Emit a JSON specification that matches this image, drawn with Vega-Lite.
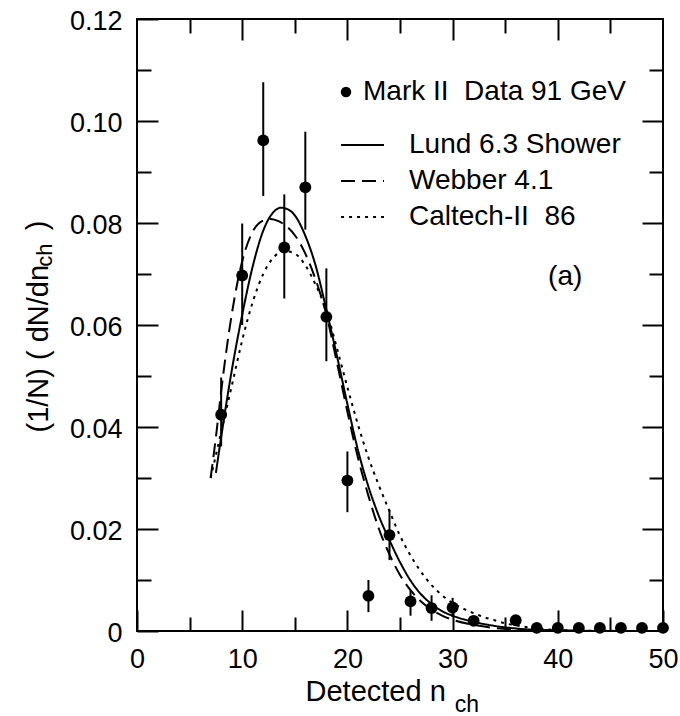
{
  "$schema": "https://vega.github.io/schema/vega-lite/v6.json",
  "width": 526,
  "height": 612,
  "autosize": {"type": "none"},
  "padding": {"left": 137, "top": 19, "right": 17, "bottom": 85},
  "background": "white",
  "datasets": {
    "data": [
      {"n": 8, "v": 0.0424, "lo": 0.0362, "hi": 0.0497},
      {"n": 10, "v": 0.0697, "lo": 0.0600, "hi": 0.0799},
      {"n": 12, "v": 0.0962, "lo": 0.0853, "hi": 0.1076},
      {"n": 14, "v": 0.0752, "lo": 0.0652, "hi": 0.0856},
      {"n": 16, "v": 0.0870, "lo": 0.0787, "hi": 0.0979},
      {"n": 18, "v": 0.0616, "lo": 0.0529, "hi": 0.0711},
      {"n": 20, "v": 0.0295, "lo": 0.0233, "hi": 0.0352},
      {"n": 22, "v": 0.0069, "lo": 0.0037, "hi": 0.0100},
      {"n": 24, "v": 0.0188, "lo": 0.0139, "hi": 0.0238},
      {"n": 26, "v": 0.0058, "lo": 0.0030, "hi": 0.0080},
      {"n": 28, "v": 0.0045, "lo": 0.0020, "hi": 0.0070},
      {"n": 30, "v": 0.0046, "lo": 0.0027, "hi": 0.0065},
      {"n": 32, "v": 0.0020, "lo": 0.0010, "hi": 0.0030},
      {"n": 36, "v": 0.0021, "lo": 0.0012, "hi": 0.0030},
      {"n": 38, "v": 0.0006, "lo": 0.0006, "hi": 0.0006},
      {"n": 40, "v": 0.0006, "lo": 0.0006, "hi": 0.0006},
      {"n": 42, "v": 0.0006, "lo": 0.0006, "hi": 0.0006},
      {"n": 44, "v": 0.0006, "lo": 0.0006, "hi": 0.0006},
      {"n": 46, "v": 0.0006, "lo": 0.0006, "hi": 0.0006},
      {"n": 48, "v": 0.0006, "lo": 0.0006, "hi": 0.0006},
      {"n": 50, "v": 0.0006, "lo": 0.0006, "hi": 0.0006}
    ],
    "curves": [
      {"model": "Lund 6.3 Shower", "n": 7.5, "v": 0.031},
      {"model": "Lund 6.3 Shower", "n": 8, "v": 0.038},
      {"model": "Lund 6.3 Shower", "n": 9, "v": 0.051},
      {"model": "Lund 6.3 Shower", "n": 10, "v": 0.062},
      {"model": "Lund 6.3 Shower", "n": 11, "v": 0.0715},
      {"model": "Lund 6.3 Shower", "n": 12, "v": 0.0785},
      {"model": "Lund 6.3 Shower", "n": 13, "v": 0.0822},
      {"model": "Lund 6.3 Shower", "n": 13.7, "v": 0.0830},
      {"model": "Lund 6.3 Shower", "n": 14.5, "v": 0.0825},
      {"model": "Lund 6.3 Shower", "n": 15, "v": 0.0815},
      {"model": "Lund 6.3 Shower", "n": 16, "v": 0.0775},
      {"model": "Lund 6.3 Shower", "n": 17, "v": 0.0715},
      {"model": "Lund 6.3 Shower", "n": 18, "v": 0.0630},
      {"model": "Lund 6.3 Shower", "n": 19, "v": 0.0540},
      {"model": "Lund 6.3 Shower", "n": 20, "v": 0.0445},
      {"model": "Lund 6.3 Shower", "n": 21, "v": 0.0355},
      {"model": "Lund 6.3 Shower", "n": 22, "v": 0.0283},
      {"model": "Lund 6.3 Shower", "n": 23, "v": 0.0225},
      {"model": "Lund 6.3 Shower", "n": 24, "v": 0.0178},
      {"model": "Lund 6.3 Shower", "n": 25, "v": 0.0135},
      {"model": "Lund 6.3 Shower", "n": 26, "v": 0.0099},
      {"model": "Lund 6.3 Shower", "n": 27, "v": 0.0072},
      {"model": "Lund 6.3 Shower", "n": 28, "v": 0.0053},
      {"model": "Lund 6.3 Shower", "n": 29, "v": 0.0039},
      {"model": "Lund 6.3 Shower", "n": 30, "v": 0.0030},
      {"model": "Lund 6.3 Shower", "n": 32, "v": 0.0018},
      {"model": "Lund 6.3 Shower", "n": 34, "v": 0.0010},
      {"model": "Lund 6.3 Shower", "n": 36, "v": 0.0005},
      {"model": "Lund 6.3 Shower", "n": 38, "v": 0.0002},
      {"model": "Lund 6.3 Shower", "n": 40, "v": 0.0001},
      {"model": "Lund 6.3 Shower", "n": 45, "v": 0.0},
      {"model": "Lund 6.3 Shower", "n": 50, "v": 0.0},
      {"model": "Webber 4.1", "n": 7, "v": 0.030},
      {"model": "Webber 4.1", "n": 7.5, "v": 0.038},
      {"model": "Webber 4.1", "n": 8, "v": 0.047},
      {"model": "Webber 4.1", "n": 9, "v": 0.062},
      {"model": "Webber 4.1", "n": 10, "v": 0.0725},
      {"model": "Webber 4.1", "n": 11, "v": 0.0783},
      {"model": "Webber 4.1", "n": 12, "v": 0.0805},
      {"model": "Webber 4.1", "n": 12.7, "v": 0.0808},
      {"model": "Webber 4.1", "n": 13.5, "v": 0.0803},
      {"model": "Webber 4.1", "n": 14, "v": 0.0797},
      {"model": "Webber 4.1", "n": 15, "v": 0.0776},
      {"model": "Webber 4.1", "n": 16, "v": 0.0740},
      {"model": "Webber 4.1", "n": 17, "v": 0.0688},
      {"model": "Webber 4.1", "n": 18, "v": 0.0620},
      {"model": "Webber 4.1", "n": 19, "v": 0.0527},
      {"model": "Webber 4.1", "n": 20, "v": 0.0430},
      {"model": "Webber 4.1", "n": 21, "v": 0.0340},
      {"model": "Webber 4.1", "n": 22, "v": 0.0265},
      {"model": "Webber 4.1", "n": 23, "v": 0.0200},
      {"model": "Webber 4.1", "n": 24, "v": 0.0150},
      {"model": "Webber 4.1", "n": 25, "v": 0.0110},
      {"model": "Webber 4.1", "n": 26, "v": 0.0080},
      {"model": "Webber 4.1", "n": 27, "v": 0.0058},
      {"model": "Webber 4.1", "n": 28, "v": 0.0042},
      {"model": "Webber 4.1", "n": 29, "v": 0.0030},
      {"model": "Webber 4.1", "n": 30, "v": 0.0022},
      {"model": "Webber 4.1", "n": 32, "v": 0.0012},
      {"model": "Webber 4.1", "n": 34, "v": 0.0006},
      {"model": "Webber 4.1", "n": 36, "v": 0.0003},
      {"model": "Webber 4.1", "n": 40, "v": 0.0001},
      {"model": "Webber 4.1", "n": 45, "v": 0.0},
      {"model": "Webber 4.1", "n": 50, "v": 0.0},
      {"model": "Caltech-II\u00a0\u00a086", "n": 7, "v": 0.030},
      {"model": "Caltech-II\u00a0\u00a086", "n": 8, "v": 0.039},
      {"model": "Caltech-II\u00a0\u00a086", "n": 9, "v": 0.048},
      {"model": "Caltech-II\u00a0\u00a086", "n": 10, "v": 0.057},
      {"model": "Caltech-II\u00a0\u00a086", "n": 11, "v": 0.0645},
      {"model": "Caltech-II\u00a0\u00a086", "n": 12, "v": 0.0700},
      {"model": "Caltech-II\u00a0\u00a086", "n": 13, "v": 0.0733},
      {"model": "Caltech-II\u00a0\u00a086", "n": 14, "v": 0.0745},
      {"model": "Caltech-II\u00a0\u00a086", "n": 15, "v": 0.0740},
      {"model": "Caltech-II\u00a0\u00a086", "n": 16, "v": 0.0717},
      {"model": "Caltech-II\u00a0\u00a086", "n": 17, "v": 0.0678},
      {"model": "Caltech-II\u00a0\u00a086", "n": 18, "v": 0.0628},
      {"model": "Caltech-II\u00a0\u00a086", "n": 19, "v": 0.0555},
      {"model": "Caltech-II\u00a0\u00a086", "n": 20, "v": 0.0478},
      {"model": "Caltech-II\u00a0\u00a086", "n": 21, "v": 0.0405},
      {"model": "Caltech-II\u00a0\u00a086", "n": 22, "v": 0.0340},
      {"model": "Caltech-II\u00a0\u00a086", "n": 23, "v": 0.0285},
      {"model": "Caltech-II\u00a0\u00a086", "n": 24, "v": 0.0235},
      {"model": "Caltech-II\u00a0\u00a086", "n": 25, "v": 0.0187},
      {"model": "Caltech-II\u00a0\u00a086", "n": 26, "v": 0.0148},
      {"model": "Caltech-II\u00a0\u00a086", "n": 27, "v": 0.0116},
      {"model": "Caltech-II\u00a0\u00a086", "n": 28, "v": 0.0090},
      {"model": "Caltech-II\u00a0\u00a086", "n": 29, "v": 0.0070},
      {"model": "Caltech-II\u00a0\u00a086", "n": 30, "v": 0.0055},
      {"model": "Caltech-II\u00a0\u00a086", "n": 31, "v": 0.0044},
      {"model": "Caltech-II\u00a0\u00a086", "n": 32, "v": 0.0035},
      {"model": "Caltech-II\u00a0\u00a086", "n": 33, "v": 0.0027},
      {"model": "Caltech-II\u00a0\u00a086", "n": 34, "v": 0.0021},
      {"model": "Caltech-II\u00a0\u00a086", "n": 35, "v": 0.0015},
      {"model": "Caltech-II\u00a0\u00a086", "n": 36, "v": 0.0011},
      {"model": "Caltech-II\u00a0\u00a086", "n": 38, "v": 0.0005},
      {"model": "Caltech-II\u00a0\u00a086", "n": 40, "v": 0.0002},
      {"model": "Caltech-II\u00a0\u00a086", "n": 43, "v": 0.00005},
      {"model": "Caltech-II\u00a0\u00a086", "n": 50, "v": 0.0}
    ],
    "anchor": [{}]
  },
  "config": {
    "view": {"stroke": "black", "strokeWidth": 2},
    "font": "Liberation Sans",
    "axis": {
      "domain": false,
      "grid": false,
      "tickColor": "black",
      "tickWidth": 2,
      "labelColor": "black",
      "titleColor": "black",
      "labelFont": "Liberation Sans",
      "titleFont": "Liberation Sans",
      "titleFontWeight": "normal",
      "labelFlush": false,
      "labelOverlap": false
    },
    "legend": {
      "orient": "none",
      "padding": 0,
      "labelFont": "Liberation Sans",
      "labelFontSize": 28,
      "labelColor": "black",
      "labelLimit": 600,
      "clipHeight": 28
    }
  },
  "resolve": {"axis": {"x": "independent", "y": "independent"}},
  "layer": [
    {
      "data": {"name": "data"},
      "mark": {"type": "rule", "color": "black", "strokeWidth": 2},
      "encoding": {
        "x": {
          "field": "n", "type": "quantitative",
          "scale": {"domain": [0, 50], "nice": false, "zero": false},
          "axis": {
            "orient": "bottom", "values": [0, 10, 20, 30, 40, 50],
            "tickSize": -21, "labelFontSize": 27, "labelPadding": 36,
            "title": "Detected n", "titleFontSize": 29,
            "titleX": 168, "titleY": 69, "titleAlign": "left", "titleBaseline": "alphabetic"
          }
        },
        "y": {
          "field": "lo", "type": "quantitative",
          "scale": {"domain": [0, 0.12], "nice": false},
          "axis": {
            "orient": "left", "values": [0, 0.02, 0.04, 0.06, 0.08, 0.1, 0.12],
            "labelExpr": "datum.value === 0 ? '0' : format(datum.value, '.2f')",
            "tickSize": -21, "labelFontSize": 27, "labelPadding": 36, "labelOffset": 2,
            "title": "(1/N) ( dN/dn", "titleFontSize": 29, "titleAngle": 270,
            "titleX": -90, "titleY": 413, "titleAlign": "left", "titleBaseline": "alphabetic"
          }
        },
        "y2": {"field": "hi"}
      }
    },
    {
      "data": {"name": "data"},
      "mark": {"type": "point", "filled": true, "color": "black", "size": 140, "opacity": 1},
      "encoding": {
        "x": {
          "field": "n", "type": "quantitative",
          "axis": {"orient": "bottom", "values": [5, 15, 25, 35, 45], "tickSize": -14, "labels": false, "title": null}
        },
        "y": {
          "field": "v", "type": "quantitative",
          "axis": {"orient": "left", "values": [0.01, 0.03, 0.05, 0.07, 0.09, 0.11], "tickSize": -14, "labels": false, "title": null}
        },
        "shape": {
          "datum": "Mark II\u00a0\u00a0Data 91 GeV", "type": "nominal",
          "scale": {"range": ["circle"]},
          "legend": {
            "title": null, "legendX": 195, "legendY": 59,
            "symbolSize": 110, "symbolFillColor": "black", "symbolStrokeColor": "black",
            "labelOffset": 3
          }
        }
      }
    },
    {
      "data": {"name": "curves"},
      "transform": [{"filter": "datum.model === 'Lund 6.3 Shower'"}],
      "mark": {"type": "line", "color": "black", "strokeWidth": 2, "interpolate": "monotone"},
      "encoding": {
        "x": {
          "field": "n", "type": "quantitative",
          "axis": {"orient": "top", "values": [10, 20, 30, 40], "tickSize": -21, "labels": false, "title": null}
        },
        "y": {
          "field": "v", "type": "quantitative",
          "axis": {"orient": "right", "values": [0.02, 0.04, 0.06, 0.08, 0.1], "tickSize": -21, "labels": false, "title": null}
        },
        "strokeDash": {
          "field": "model", "type": "nominal",
          "scale": {"domain": ["Lund 6.3 Shower", "Webber 4.1", "Caltech-II\u00a0\u00a086"], "range": [[1, 0], [14, 7], [3, 5]]},
          "legend": {
            "title": null, "legendX": 203, "legendY": 112,
            "symbolType": "stroke", "symbolSize": 1849, "symbolStrokeWidth": 2, "symbolStrokeColor": "black",
            "labelOffset": 24, "rowPadding": 8
          }
        }
      }
    },
    {
      "data": {"name": "curves"},
      "transform": [{"filter": "datum.model === 'Webber 4.1'"}],
      "mark": {"type": "line", "color": "black", "strokeWidth": 2, "interpolate": "monotone"},
      "encoding": {
        "x": {
          "field": "n", "type": "quantitative",
          "axis": {"orient": "top", "values": [5, 15, 25, 35, 45], "tickSize": -14, "labels": false, "title": null}
        },
        "y": {
          "field": "v", "type": "quantitative",
          "axis": {"orient": "right", "values": [0.01, 0.03, 0.05, 0.07, 0.09, 0.11], "tickSize": -14, "labels": false, "title": null}
        },
        "strokeDash": {
          "field": "model", "type": "nominal",
          "scale": {"domain": ["Lund 6.3 Shower", "Webber 4.1", "Caltech-II\u00a0\u00a086"], "range": [[1, 0], [14, 7], [3, 5]]},
          "legend": {
            "title": null, "legendX": 203, "legendY": 112,
            "symbolType": "stroke", "symbolSize": 1849, "symbolStrokeWidth": 2, "symbolStrokeColor": "black",
            "labelOffset": 24, "rowPadding": 8
          }
        }
      }
    },
    {
      "data": {"name": "curves"},
      "transform": [{"filter": "datum.model === 'Caltech-II\u00a0\u00a086'"}],
      "mark": {"type": "line", "color": "black", "strokeWidth": 2, "interpolate": "monotone"},
      "encoding": {
        "x": {"field": "n", "type": "quantitative", "axis": null},
        "y": {"field": "v", "type": "quantitative", "axis": null},
        "strokeDash": {
          "field": "model", "type": "nominal",
          "scale": {"domain": ["Lund 6.3 Shower", "Webber 4.1", "Caltech-II\u00a0\u00a086"], "range": [[1, 0], [14, 7], [3, 5]]},
          "legend": {
            "title": null, "legendX": 203, "legendY": 112,
            "symbolType": "stroke", "symbolSize": 1849, "symbolStrokeWidth": 2, "symbolStrokeColor": "black",
            "labelOffset": 24, "rowPadding": 8
          }
        }
      }
    },
    {
      "data": {"name": "anchor"},
      "mark": {"type": "text", "text": "(a)", "fontSize": 28, "font": "Liberation Sans", "color": "black", "align": "center", "baseline": "middle"},
      "encoding": {
        "x": {"datum": 40.7, "type": "quantitative", "axis": null},
        "y": {"datum": 0.0694, "type": "quantitative", "axis": null}
      }
    },
    {
      "data": {"name": "anchor"},
      "mark": {"type": "text", "text": "ch", "fontSize": 23, "font": "Liberation Sans", "color": "black", "align": "left", "baseline": "alphabetic", "dy": 81},
      "encoding": {
        "x": {"datum": 30.2, "type": "quantitative", "axis": null},
        "y": {"datum": 0, "type": "quantitative", "axis": null}
      }
    },
    {
      "data": {"name": "anchor"},
      "mark": {"type": "text", "text": "ch", "fontSize": 22, "font": "Liberation Sans", "color": "black", "align": "left", "baseline": "alphabetic", "angle": 270, "dy": -85},
      "encoding": {
        "x": {"datum": 0, "type": "quantitative", "axis": null},
        "y": {"datum": 0.0714, "type": "quantitative", "axis": null}
      }
    },
    {
      "data": {"name": "anchor"},
      "mark": {"type": "text", "text": ")", "fontSize": 29, "font": "Liberation Sans", "color": "black", "align": "left", "baseline": "alphabetic", "angle": 270, "dy": -90},
      "encoding": {
        "x": {"datum": 0, "type": "quantitative", "axis": null},
        "y": {"datum": 0.0786, "type": "quantitative", "axis": null}
      }
    }
  ]
}
